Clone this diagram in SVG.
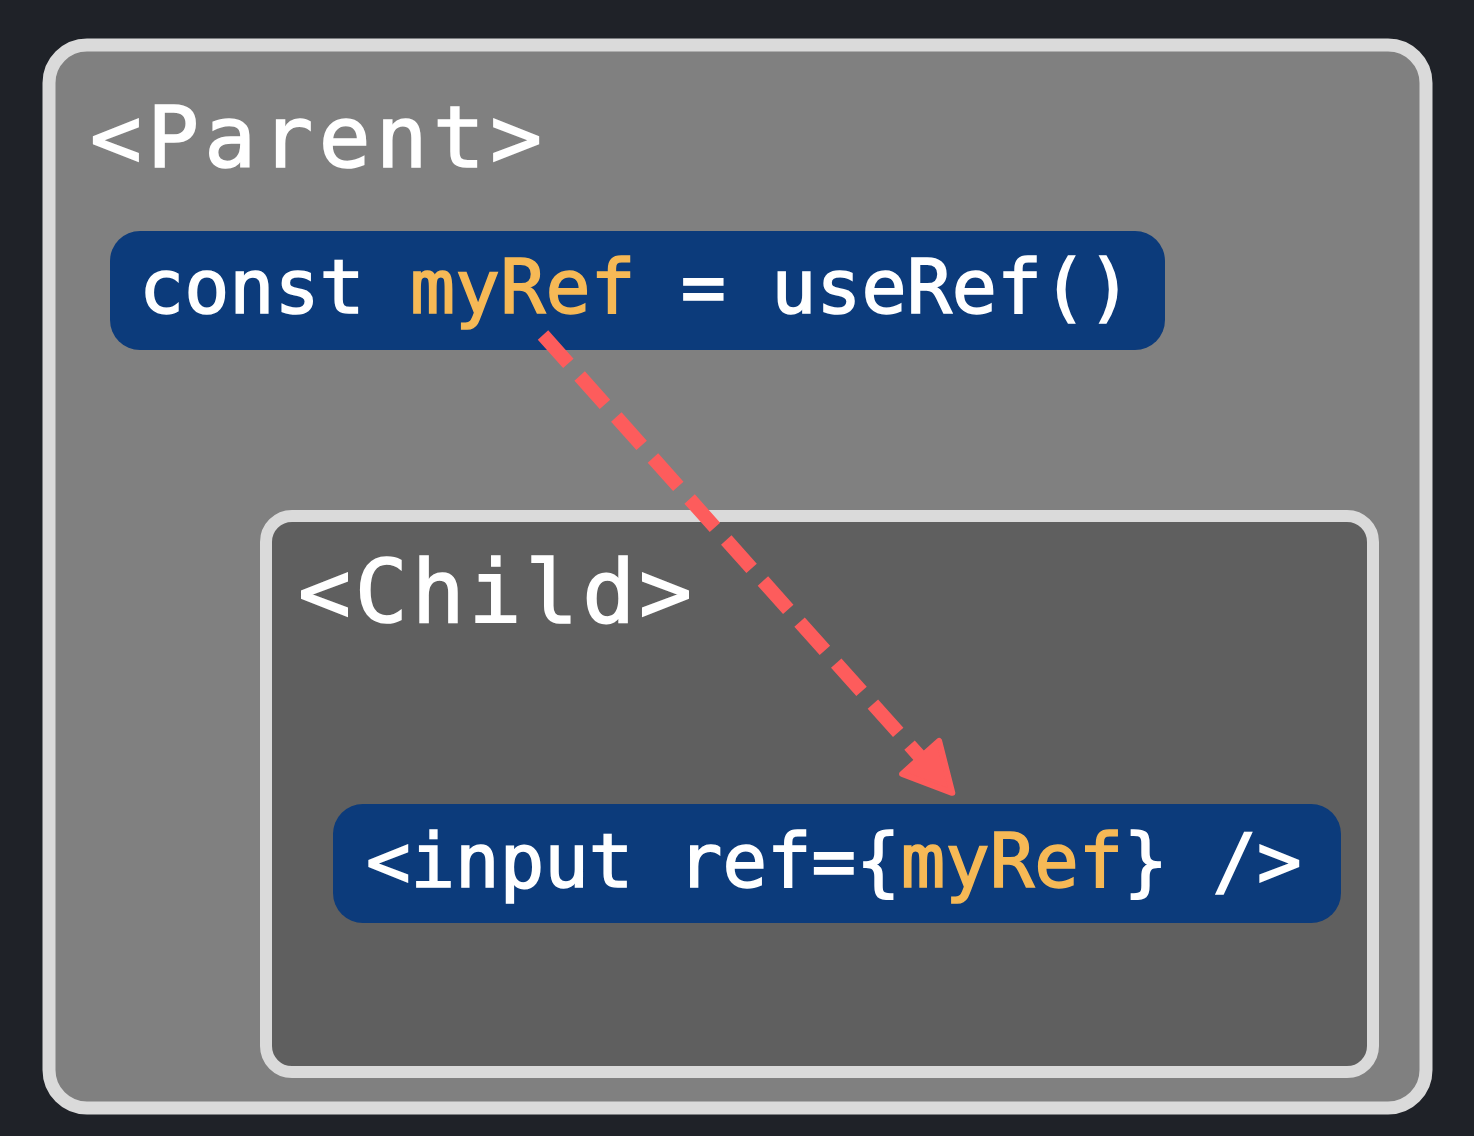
<svg xmlns="http://www.w3.org/2000/svg" width="1474" height="1136" viewBox="0 0 1474 1136">
  <style>
    .mono { font-family: "DejaVu Sans Mono", "Liberation Mono", monospace; fill: #ffffff; stroke: #ffffff; stroke-width: 1.6; }
    .hl { fill: #f6b956; stroke: #f6b956; }
    .code { fill: #0c3b7b; }
    .frame { stroke: #dadada; }
    .conn { fill: none; stroke: #fd5c5c; stroke-width: 14; stroke-dasharray: 38 17; }
  </style>
  <defs>
    <marker id="arrow" markerUnits="userSpaceOnUse" markerWidth="70" markerHeight="70" refX="2" refY="0" viewBox="-6 -34 62 68" orient="auto" overflow="visible">
      <path d="M0,-24 L46,0 L0,24 Z" fill="#fd5c5c" stroke="#fd5c5c" stroke-width="6" stroke-linejoin="round"/>
    </marker>
  </defs>
  <rect x="0" y="0" width="1474" height="1136" fill="#1f2228"/>

  <g id="parent">
    <rect class="frame" x="49" y="45" width="1377" height="1063" rx="38" fill="#808080" stroke-width="13"/>
    <text class="mono" x="90" y="167" font-size="86" textLength="452" lengthAdjust="spacing">&lt;Parent&gt;</text>
  </g>

  <g id="useref">
    <rect class="code" x="110" y="231" width="1055" height="119" rx="30"/>
    <text class="mono" x="139" y="313" font-size="75" xml:space="preserve">const <tspan class="hl">myRef</tspan> = useRef()</text>
  </g>

  <g id="child">
    <rect class="frame" x="266" y="516" width="1107" height="556" rx="26" fill="#5f5f5f" stroke-width="12"/>
    <text class="mono" x="298" y="622" font-size="88" textLength="394" lengthAdjust="spacing">&lt;Child&gt;</text>
  </g>

  <g id="input">
    <rect class="code" x="333" y="804" width="1008" height="119" rx="30"/>
    <text class="mono" x="366" y="887" font-size="74" xml:space="preserve">&lt;input ref={<tspan class="hl">myRef</tspan>} /&gt;</text>
  </g>

  <g id="connectors">
    <line class="conn" x1="543" y1="335" x2="922" y2="759" marker-end="url(#arrow)"/>
  </g>
</svg>
